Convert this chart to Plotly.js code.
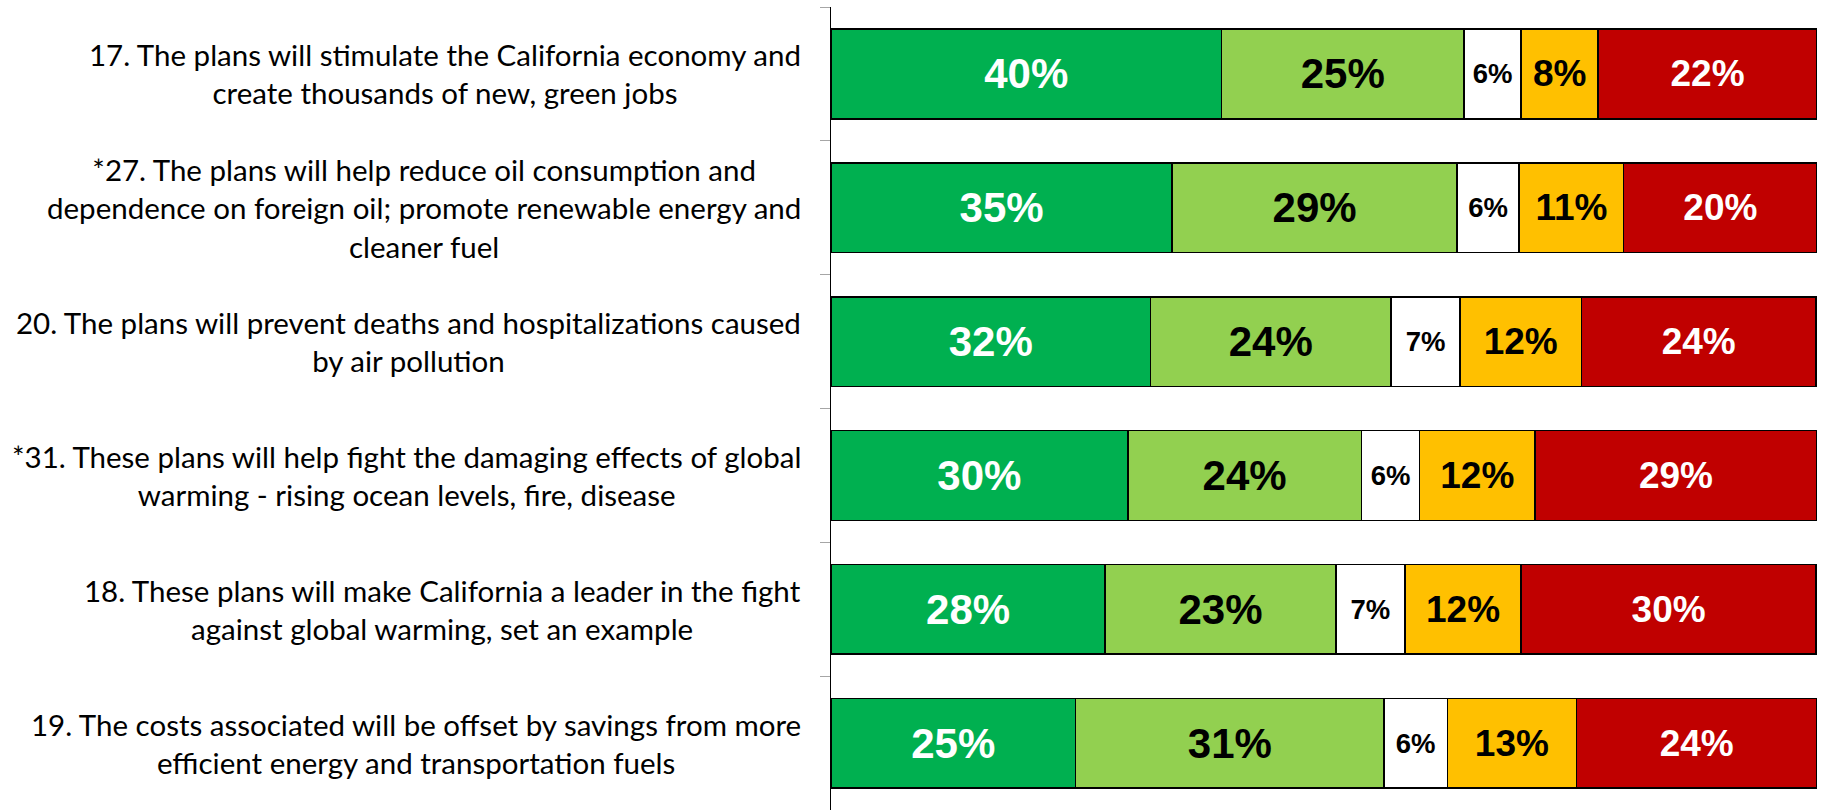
<!DOCTYPE html>
<html>
<head>
<meta charset="utf-8">
<script src="https://cdn.plot.ly/plotly-3.0.1.min.js"></script>
<style>
  html, body { margin: 0; padding: 0; background: #ffffff; }
  #chart { width: 1826px; height: 810px; }
</style>
</head>
<body>
<div id="chart"></div>
<script>
// Categories (statements), top to bottom
const categories = [
  "17. The plans will stimulate the California economy and<br>create thousands of new, green jobs",
  "*27. The plans will help reduce oil consumption and<br>dependence on foreign oil; promote renewable energy and<br>cleaner fuel",
  "20. The plans will prevent deaths and hospitalizations caused<br>by air pollution",
  "*31. These plans will help fight the damaging effects of global<br>warming - rising ocean levels, fire, disease",
  "18. These plans will make California a leader in the fight<br>against global warming, set an example",
  "19. The costs associated will be offset by savings from more<br>efficient energy and transportation fuels"
];

// Series values (percent)
const veryConvincing     = [39.6, 34.6, 32.4, 30.1, 27.8, 24.8];
const somewhatConvincing = [24.6, 28.9, 24.4, 23.7, 23.4, 31.3];
const dontKnow           = [ 5.8,  6.3,  7.0,  5.9,  7.0,  6.4];
const notTooConvincing   = [ 7.8, 10.6, 12.3, 11.7, 11.8, 13.1];
const notAtAllConvincing = [22.2, 19.6, 23.8, 28.6, 29.9, 24.4];

const seriesNames = ["Very convincing", "Somewhat convincing", "Don't know", "Not too convincing", "Not at all convincing"];
const seriesValues = [veryConvincing, somewhatConvincing, dontKnow, notTooConvincing, notAtAllConvincing];
const seriesColors = ["#00B050", "#92D050", "#FFFFFF", "#FFC000", "#C00000"];
const labelColors  = ["#FFFFFF", "#000000", "#000000", "#000000", "#FFFFFF"];
const labelSizes   = [42, 42, 27.5, 37, 37];

const traces = seriesValues.map((vals, i) => ({
  type: "bar",
  orientation: "h",
  name: seriesNames[i],
  y: categories,
  x: vals,
  marker: { color: seriesColors[i], line: { color: "#000000", width: 1.5 } },
  texttemplate: "%{x:.0f}%",
  textposition: "inside",
  insidetextanchor: "middle",
  textangle: 0,
  constraintext: "none",
  textfont: {
    family: "Liberation Sans, Arial, sans-serif",
    size: labelSizes[i],
    color: labelColors[i],
    weight: "bold"
  },
  hoverinfo: "skip",
  showlegend: false
}));

const annotations = categories.map(c => ({
  xref: "paper",
  yref: "y",
  x: 0,
  y: c,
  xanchor: "right",
  yanchor: "middle",
  xshift: -28,
  align: "center",
  showarrow: false,
  text: c,
  font: { family: "Lato, 'Noto Sans', sans-serif", size: 29.5, color: "#000000" }
}));

const layout = {
  width: 1826,
  height: 810,
  margin: { l: 831, r: 9, t: 7, b: 0, pad: 0 },
  paper_bgcolor: "#ffffff",
  plot_bgcolor: "#ffffff",
  barmode: "stack",
  bargap: 0.33,
  showlegend: false,
  hovermode: false,
  xaxis: {
    range: [0, 100],
    showticklabels: false,
    showgrid: false,
    zeroline: false,
    showline: false,
    ticks: "",
    fixedrange: true
  },
  yaxis: {
    type: "category",
    autorange: "reversed",
    showticklabels: false,
    showgrid: false,
    zeroline: false,
    showline: true,
    linecolor: "#000000",
    linewidth: 1,
    ticks: "outside",
    ticklen: 10,
    tickwidth: 1,
    tickcolor: "#A6A6A6",
    tickson: "boundaries",
    fixedrange: true
  },
  annotations: annotations
};

Plotly.newPlot("chart", traces, layout, { displayModeBar: false, staticPlot: true });
</script>
</body>
</html>
